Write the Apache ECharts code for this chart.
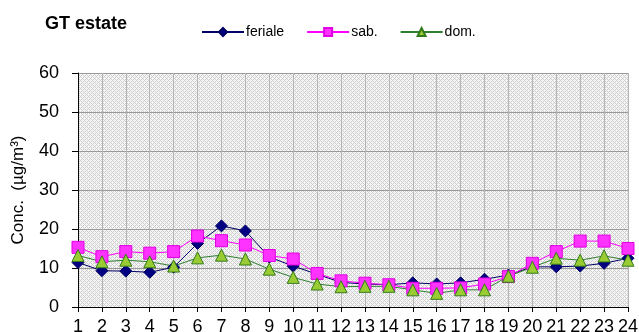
<!DOCTYPE html>
<html><head><meta charset="utf-8">
<script src="https://cdn.jsdelivr.net/npm/echarts@6/dist/echarts.min.js"></script>
<style>html,body{margin:0;padding:0;background:#fff}#c{width:639px;height:332px}</style>
</head><body><div id="c"></div>
<script>
const hours = ['1','2','3','4','5','6','7','8','9','10','11','12','13','14','15','16','17','18','19','20','21','22','23','24'];
const feriale = [11.4,9.3,9.2,8.9,10.2,16.3,20.8,19.5,12.8,10.5,8.4,6.3,5.9,5.7,6.2,5.9,6.2,7.1,8.2,10.3,10.3,10.5,11.2,12.5];
const sab = [15.3,12.9,14.2,13.8,14.2,18.2,17.0,15.9,13.2,12.3,8.6,6.7,6.1,5.7,4.8,4.8,4.9,5.9,7.8,11.2,14.2,16.9,16.9,15.0];
const dom = [13.2,11.6,12.0,11.6,10.5,12.6,13.3,12.3,9.7,7.6,5.9,5.2,5.3,5.3,4.4,3.5,4.4,4.4,7.9,10.2,12.5,12.0,13.1,12.0];
const yTicks = [0,10,20,30,40,50,60];

const pc = document.createElement('canvas');
pc.width = 4; pc.height = 4;
const g = pc.getContext('2d');
g.fillStyle = '#f6f6f6'; g.fillRect(0,0,4,4);
g.fillStyle = '#cdcdcd';
[[0,0],[2,2],[1,1],[3,3],[3,1],[1,3]].forEach(p=>g.fillRect(p[0],p[1],1,1));

const chart = echarts.init(document.getElementById('c'));
chart.setOption({
  animation:false,
  textStyle:{fontFamily:'Liberation Sans, Arial, sans-serif'},
  title:{text:'GT estate',left:40,top:10,textStyle:{fontSize:18,fontWeight:'bold',color:'#000'}},
  legend:{
    top:20,left:196,itemGap:22,itemWidth:42,itemHeight:10,
    textStyle:{fontSize:14,color:'#000',padding:[0,0,0,-3]},
    data:['feriale','sab.','dom.']
  },
  grid:{left:78,right:11,top:73,bottom:25,show:true,borderWidth:0,
        outerBoundsMode:'none',containLabel:false,
        backgroundColor:{image:pc,repeat:'repeat'}},
  xAxis:{
    type:'category',data:hours,boundaryGap:false,
    axisLine:{lineStyle:{color:'#000',width:1}},
    axisTick:{show:true,length:5,lineStyle:{color:'#000'}},
    axisLabel:{color:'#000',fontSize:18,margin:11,interval:0},
    splitLine:{show:true,lineStyle:{color:'#b4b4b4',width:1}}
  },
  yAxis:{
    type:'value',min:0,max:60,interval:10,
    name:'Conc.  (µg/m³)',nameLocation:'middle',nameGap:51,
    nameTextStyle:{fontSize:17,color:'#000'},
    axisLine:{show:true,lineStyle:{color:'#000',width:1}},
    axisTick:{show:true,length:6,lineStyle:{color:'#000'}},
    axisLabel:{color:'#000',fontSize:18,margin:19},
    splitLine:{show:true,lineStyle:{color:'#9a9a9a',width:1}}
  },
  series:[
    {name:'feriale',type:'line',data:feriale,symbol:'diamond',symbolSize:12,
     lineStyle:{color:'#000066',width:1},itemStyle:{color:'#000080',borderColor:'#000066',borderWidth:1}},
    {name:'sab.',type:'line',data:sab,symbol:'rect',symbolSize:12,
     lineStyle:{color:'#ff00ff',width:1},itemStyle:{color:'#ff33ff',borderColor:'#e000e0',borderWidth:1}},
    {name:'dom.',type:'line',data:dom,symbol:'triangle',symbolSize:12,
     lineStyle:{color:'#2f7f2f',width:1},itemStyle:{color:'#99cc33',borderColor:'#337a1a',borderWidth:1}}
  ]
});
</script></body></html>
